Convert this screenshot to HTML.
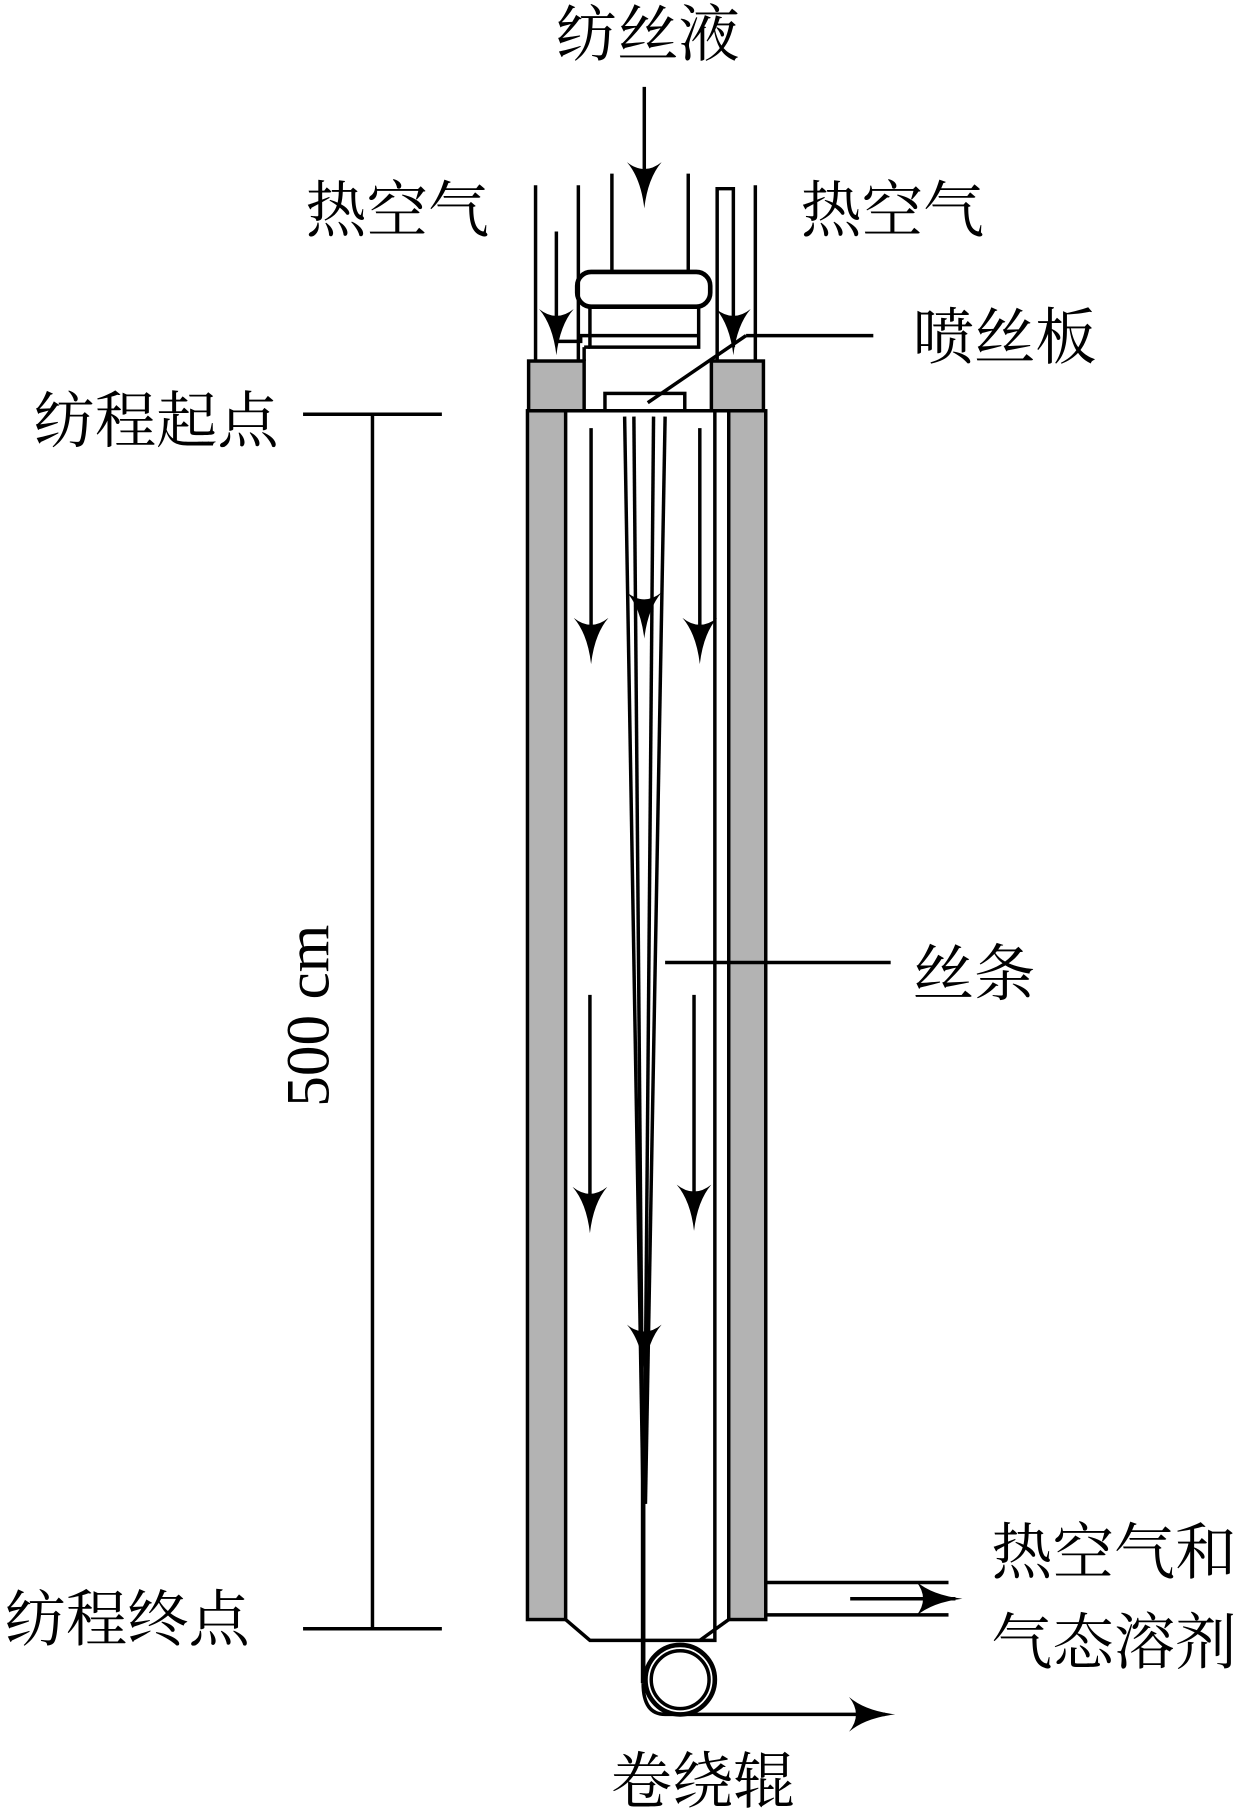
<!DOCTYPE html>
<html><head><meta charset="utf-8"><style>html,body{margin:0;padding:0;background:#fff}svg{display:block}text{font-family:"Liberation Serif","Noto Serif CJK SC",serif;fill:#000}</style></head>
<body>
<svg width="1240" height="1814" viewBox="0 0 1072 1568" xmlns="http://www.w3.org/2000/svg">
<defs>
<path id="d" d="M0 0 Q-3 -26 -15 -40 Q0 -28 15 -40 Q3 -26 0 0Z" fill="#000"/>
<path id="r" d="M0 0 Q-26 -3 -40 -15 Q-28 0 -40 15 Q-26 3 0 0Z" fill="#000"/>
</defs>
<g stroke="#000" stroke-width="3" fill="none">
<rect x="456" y="355" width="33" height="1045" fill="#b3b3b3"/>
<rect x="630" y="355" width="32" height="1045" fill="#b3b3b3"/>
<line x1="618" y1="355" x2="618" y2="1400"/>
<rect x="457" y="312" width="48" height="43" fill="#b3b3b3"/>
<rect x="615" y="312" width="45" height="43" fill="#b3b3b3"/>
<line x1="456" y1="355" x2="662" y2="355"/>
<rect x="523" y="340" width="69" height="15"/>
<rect x="499" y="235" width="115" height="30" rx="12" fill="#fff" stroke-width="4"/>
<rect x="510" y="265" width="94" height="35"/>
<line x1="510" y1="290" x2="604" y2="290"/>
<line x1="505" y1="300" x2="505" y2="312"/><line x1="505" y1="300" x2="510" y2="300"/>
<polyline points="482,295 502,295 502,290 510,290"/>
<line x1="529" y1="150" x2="529" y2="235"/>
<line x1="595" y1="150" x2="595" y2="235"/>
<line x1="557" y1="75" x2="557" y2="160"/>
<line x1="463" y1="160" x2="463" y2="312"/>
<line x1="500" y1="160" x2="500" y2="312"/>
<line x1="481" y1="200" x2="481" y2="295"/>
<polyline points="620,312 620,163 634,163 634,300"/>
<line x1="653" y1="160" x2="653" y2="312"/>
<line x1="560" y1="348" x2="645" y2="290"/>
<line x1="645" y1="290" x2="755" y2="290"/>
<line x1="540" y1="360" x2="556" y2="1300"/>
<line x1="548" y1="360" x2="556" y2="1300"/>
<line x1="565" y1="360" x2="557" y2="1300"/>
<line x1="575" y1="360" x2="558" y2="1300"/>
<line x1="556" y1="1200" x2="556" y2="1455" stroke-width="4"/>
<line x1="511" y1="370" x2="511" y2="560"/>
<line x1="605" y1="370" x2="605" y2="560"/>
<line x1="510" y1="860" x2="510" y2="1050"/>
<line x1="600" y1="860" x2="600" y2="1050"/>
<polyline points="489,1400 510,1418 618,1418 618,1400"/>
<line x1="630" y1="1400" x2="605" y2="1418"/>
<circle cx="588" cy="1452" r="30" stroke-width="4"/>
<circle cx="588" cy="1452" r="25"/>
<path d="M556 1455 Q556 1482 575 1482 L765 1482"/>
<line x1="662" y1="1368" x2="820" y2="1368"/>
<line x1="662" y1="1396" x2="820" y2="1396"/>
<line x1="735" y1="1382" x2="826" y2="1382"/>
<line x1="575" y1="832" x2="770" y2="832"/>
<line x1="322" y1="358" x2="322" y2="1408"/>
<line x1="262" y1="358" x2="382" y2="358"/>
<line x1="262" y1="1408" x2="382" y2="1408"/>
</g>
<use href="#d" x="557" y="180"/>
<use href="#d" x="481" y="307"/>
<use href="#d" x="634" y="307"/>
<use href="#d" x="511" y="574"/>
<use href="#d" x="605" y="574"/>
<use href="#d" x="557" y="552"/>
<use href="#d" x="510" y="1066"/>
<use href="#d" x="600" y="1064"/>
<use href="#d" x="557" y="1185"/>
<use href="#r" x="832" y="1382"/>
<use href="#r" x="774" y="1482"/>
<g font-size="53">
<text x="560" y="48" text-anchor="middle">纺丝液</text>
<text x="264" y="200">热空气</text>
<text x="692" y="200">热空气</text>
<text x="789" y="310">喷丝板</text>
<text x="29" y="382">纺程起点</text>
<text x="789" y="860">丝条</text>
<text x="4" y="1418">纺程终点</text>
<text x="857" y="1360">热空气和</text>
<text x="857" y="1438">气态溶剂</text>
<text x="528" y="1558">卷绕辊</text>
<text transform="translate(284,878) rotate(-90)" text-anchor="middle">500 cm</text>
</g>
</svg>
</body></html>
